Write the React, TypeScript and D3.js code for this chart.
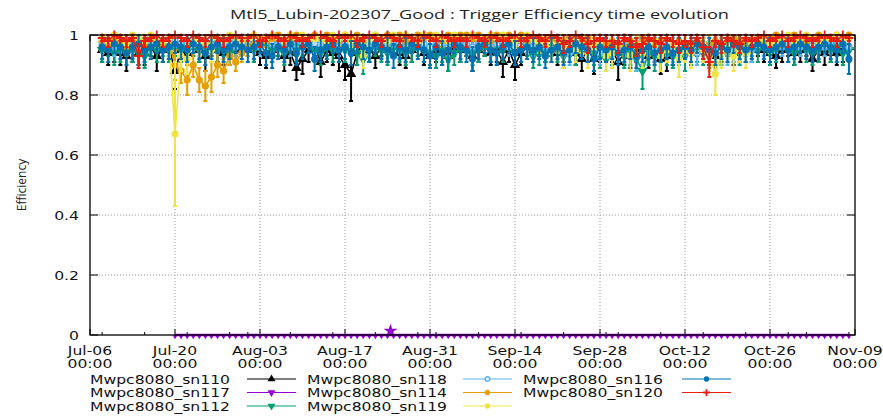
import React from "react";
import * as d3 from "d3";

const W = 883;
const H = 416;

// ---------- data ----------
const firstDay = new Date(2023, 6, 8);
const lastDay = new Date(2023, 10, 9);
const days = d3.timeDay.range(firstDay, lastDay); // Jul-08 .. Nov-08, 124 days

const tickDates = [
  new Date(2023, 6, 6), new Date(2023, 6, 20), new Date(2023, 7, 3), new Date(2023, 7, 17),
  new Date(2023, 7, 31), new Date(2023, 8, 14), new Date(2023, 8, 28), new Date(2023, 9, 12),
  new Date(2023, 9, 26), new Date(2023, 10, 9),
];
const tickLabels = ["Jul-06", "Jul-20", "Aug-03", "Aug-17", "Aug-31", "Sep-14", "Sep-28", "Oct-12", "Oct-26", "Nov-09"];
const yTicks = [0, 0.2, 0.4, 0.6, 0.8, 1];
const yTickLabels = ["0", "0.2", "0.4", "0.6", "0.8", "1"];

const seriesNames = ["Mwpc8080_sn110", "Mwpc8080_sn117", "Mwpc8080_sn112", "Mwpc8080_sn118", "Mwpc8080_sn114", "Mwpc8080_sn119", "Mwpc8080_sn116", "Mwpc8080_sn120"];
const seriesColors = ["#000000", "#9400d3", "#009e73", "#56b4e9", "#e69f00", "#f0e442", "#0072b2", "#e51e10"];
const seriesMarkers = ["triUp", "triDown", "triDown", "openCircle", "circle", "circle", "circle", "plus"];

// efficiency in percent, one value per day; errors in percent
const sn110 = [95,94,95,94,93,95,94,94,96,93,95,96, 88,95,94,96,95,93,96,95,94,96,95,97, 96,95,94,93,95,96,93,94,89,92,95,96, 91,95,94,93,90,87,94,96,95,93,96,95, 96,94,93,95,96,94,93,95,94,93,96,95, 96,93,95,96,94,95,91,95,90,94,96,95, 96,95,96,94,95,96,94,92,95,92,95,96, 95,91,94,93,95,94,93,95,92,93,94,95, 95,94,96,95,94,93,95,96,94,95,96,95, 96,95,94,93,95,96,94,95,96,92,95,94, 95,94,95,96];
const sn110Err = [4,4,4,4,5,4,4,4,3,5,4,4, 6,4,4,3,4,5,3,4,4,3,4,3, 3,4,4,4,4,3,5,4,4,5,4,3, 5,4,4,5,5,9,4,3,4,4,3,4, 3,4,4,4,3,4,4,4,4,5,3,4, 3,5,4,3,4,4,5,4,5,4,3,4, 3,4,3,4,4,3,4,4,4,5,4,3, 4,6,4,4,4,4,4,4,5,5,4,4, 4,4,3,4,4,4,4,3,4,4,3,4, 3,4,4,4,4,3,4,4,3,4,4,4, 4,4,4,3];

const sn117 = [null,null,null,null,null,null,null,null,null,null,null,null, 0,0,0,0,0,0,0,0,0,0,0,0, 0,0,0,0,0,0,0,0,0,0,0,0, 0,0,0,0,0,0,0,0,0,0,0,0, 0,0,0,0,0,0,0,0,0,0,0,0, 0,0,0,0,0,0,0,0,0,0,0,0, 0,0,0,0,0,0,0,0,0,0,0,0, 0,0,0,0,0,0,0,0,0,0,0,0, 0,0,0,0,0,0,0,0,0,0,0,0, 0,0,0,0,0,0,0,0,0,0,0,0, 0,0,0,0];
const sn117Err = [0,0,0,0,0,0,0,0,0,0,0,0, 0,0,0,0,0,0,0,0,0,0,0,0, 0,0,0,0,0,0,0,0,0,0,0,0, 0,0,0,0,0,0,0,0,0,0,0,0, 0,0,0,0,0,0,0,0,0,0,0,0, 0,0,0,0,0,0,0,0,0,0,0,0, 0,0,0,0,0,0,0,0,0,0,0,0, 0,0,0,0,0,0,0,0,0,0,0,0, 0,0,0,0,0,0,0,0,0,0,0,0, 0,0,0,0,0,0,0,0,0,0,0,0, 0,0,0,0];
const sn117StarDate = [new Date(2023, 7, 24, 12)];
const sn117StarValue = [1];

const sn112 = [95,96,94,95,96,95,94,93,96,95,96,95, 96,95,97,96,95,96,97,95,96,94,96,97, 96,95,96,97,95,96,94,96,95,96,97,95, 94,96,95,96,95,96,94,92,95,96,95,94, 96,95,94,95,96,95,94,93,95,92,94,95, 96,94,95,96,95,94,95,96,94,95,96,93, 94,95,96,95,93,95,94,96,95,94,93,92, 94,95,93,94,92,88,94,93,95,94,93,95, 93,94,95,94,93,95,94,96,95,94,95,96, 95,96,94,95,96,95,94,96,95,94,95,96, 95,96,94,95];
const sn112Err = [4,3,4,4,3,4,4,4,3,4,3,4, 3,4,3,3,4,3,3,4,3,4,3,3, 3,4,3,3,4,3,4,3,4,3,3,4, 4,3,4,3,4,3,4,5,4,3,4,4, 3,4,4,4,3,4,4,4,4,4,4,4, 3,4,4,3,4,4,4,3,4,4,3,4, 4,4,3,4,4,4,4,3,4,4,4,4, 4,4,4,4,4,6,4,5,4,4,4,4, 5,4,4,4,4,4,4,3,4,4,4,3, 4,3,4,4,3,4,4,3,4,4,4,3, 4,3,4,4];

const sn118 = [97,98,96,97,98,97,96,98,97,98,97,96, 98,97,98,97,96,98,97,98,97,98,96,97, 98,97,96,98,97,98,97,96,98,97,98,97, 97,98,97,96,98,97,98,97,96,97,98,97, 98,97,96,97,98,97,96,98,97,96,97,98, 97,96,98,97,96,97,98,96,97,98,97,96, 97,96,95,97,96,94,97,96,95,96,94,97, 96,95,97,96,93,94,96,95,97,96,95,94, 96,95,94,96,97,95,96,94,95,97,96,95, 97,96,98,97,96,97,98,96,97,98,97,96, 97,98,97,96];
const sn118Err = [3,2,3,3,2,3,3,2,3,2,3,3, 2,3,2,3,3,2,3,2,3,2,3,3, 2,3,3,2,3,2,3,3,2,3,2,3, 3,2,3,3,2,3,2,3,3,3,2,3, 2,3,3,3,2,3,3,2,3,3,3,2, 3,3,2,3,3,3,2,3,3,2,3,3, 3,3,4,3,3,4,3,3,4,3,4,3, 3,4,3,3,5,4,3,4,3,3,4,4, 3,4,4,3,3,4,3,4,4,3,3,4, 3,3,2,3,3,3,2,3,3,2,3,3, 3,2,3,3];

const sn114 = [98,97,99,98,96,99,98,97,99,98,97,99, 90,88,85,90,85,83,86,90,88,93,91,94, 96,97,99,98,99,100,98,99,100,99,98,100, 99,100,99,98,100,99,100,98,99,100,99,100, 99,100,98,99,100,99,100,99,98,100,99,100, 100,99,100,99,98,100,99,100,99,100,98,99, 99,98,99,97,98,99,97,98,99,96,98,97, 98,97,96,98,97,99,96,97,98,95,97,98, 97,96,98,95,97,98,96,97,99,98,97,98, 99,98,99,100,98,99,100,99,98,99,100,99, 99,100,99,100];
const sn114Err = [2,2,1,2,3,1,2,2,1,2,2,1, 5,4,5,4,4,5,5,4,4,3,3,3, 3,2,1,2,1,0,2,1,0,1,2,0, 1,0,1,2,0,1,0,2,1,0,1,0, 1,0,2,1,0,1,0,1,2,0,1,0, 0,1,0,1,2,0,1,0,1,0,2,1, 1,2,1,3,2,1,3,2,1,3,2,3, 2,3,3,2,3,1,3,3,2,4,3,2, 3,3,2,4,3,2,3,3,1,2,3,2, 1,2,1,0,2,1,0,1,2,1,0,1, 1,0,1,0];

const sn119 = [99,98,100,99,97,100,99,98,100,99,98,99, 67,93,92,98,96,97,95,99,98,100,99,98, 99,100,98,99,100,99,98,100,99,100,98,99, 99,98,100,99,100,98,99,93,99,100,99,98, 100,99,100,99,98,100,99,100,99,98,100,99, 99,100,99,98,100,99,100,99,98,99,100,99, 97,98,95,97,94,98,95,97,94,96,98,93, 94,97,95,93,97,94,96,98,93,95,97,92, 95,94,97,95,93,87,94,96,93,95,94,97, 98,99,97,98,99,100,98,99,100,99,98,99, 99,100,98,99];
const sn119Err = [1,2,0,1,3,0,1,2,0,1,2,1, 24,5,5,2,3,3,4,1,2,0,1,2, 1,0,2,1,0,1,2,0,1,0,2,1, 1,2,0,1,0,2,1,4,1,0,1,2, 0,1,0,1,2,0,1,0,1,2,0,1, 1,0,1,2,0,1,0,1,2,1,0,1, 3,2,4,3,5,2,4,3,5,4,2,5, 5,3,4,5,3,5,4,2,5,4,3,6, 4,5,3,4,5,7,5,4,5,4,5,3, 2,1,3,2,1,0,2,1,0,1,2,1, 1,0,2,1];

const sn116 = [96,95,97,96,94,96,97,95,96,97,95,96, 97,96,95,97,96,94,96,97,95,96,97,96, 95,96,97,94,93,96,95,97,94,96,97,92, 95,96,97,95,96,94,97,96,95,97,96,95, 93,96,95,97,96,95,93,96,94,95,97,96, 95,92,96,97,95,94,96,97,94,95,96,95, 96,93,95,96,94,95,97,96,95,92,96,95, 96,94,95,96,93,95,96,94,95,96,94,95, 96,95,97,96,95,94,96,95,97,96,95,96, 97,96,95,96,97,95,96,97,96,95,96,97, 96,95,97,92];
const sn116Err = [4,4,3,4,4,4,3,4,4,3,4,4, 3,4,4,3,4,4,4,3,4,4,3,4, 4,4,3,4,4,4,4,3,4,4,3,4, 4,4,3,4,4,4,3,4,4,3,4,4, 4,4,4,3,4,4,4,4,4,4,3,4, 4,4,4,3,4,4,4,3,4,4,4,4, 4,4,4,4,4,4,3,4,4,4,4,4, 4,4,4,4,4,4,4,4,4,4,4,4, 4,4,3,4,4,4,4,4,3,4,4,4, 3,4,4,4,3,4,4,3,4,4,4,3, 4,4,3,5];

const sn120 = [99,98,100,99,98,99,93,98,99,100,98,99, 100,99,98,100,99,98,100,99,98,99,100,99, 99,100,98,99,100,99,98,100,99,98,99,100, 100,99,98,100,99,100,98,99,100,99,98,100, 99,98,100,99,98,100,99,98,100,99,98,99, 98,100,99,98,100,99,98,99,100,98,99,100, 99,98,100,99,97,98,100,99,97,98,99,98, 98,97,99,98,96,97,99,98,97,99,98,97, 98,97,99,96,91,98,97,99,98,97,99,98, 99,100,98,99,100,98,99,100,99,98,99,100, 99,98,100,99];
const sn120Err = [1,2,0,1,2,1,4,2,1,0,2,1, 0,1,2,0,1,2,0,1,2,1,0,1, 1,0,2,1,0,1,2,0,1,2,1,0, 0,1,2,0,1,0,2,1,0,1,2,0, 1,2,0,1,2,0,1,2,0,1,2,1, 2,0,1,2,0,1,2,1,0,2,1,0, 1,2,0,1,3,2,0,1,3,2,1,2, 2,3,1,2,3,3,1,2,3,1,2,3, 2,3,1,4,5,2,3,1,2,3,1,2, 1,0,2,1,0,2,1,0,1,2,1,0, 1,2,0,1];

const seriesValues = [sn110, sn117, sn112, sn118, sn114, sn119, sn116, sn120];
const seriesErrors = [sn110Err, sn117Err, sn112Err, sn118Err, sn114Err, sn119Err, sn116Err, sn120Err];

// ---------- layout ----------
const x0 = 90, x1 = 855, yTop = 35, yBot = 335;
const xScale = d3.scaleTime().domain([tickDates[0], tickDates[tickDates.length - 1]]).range([x0, x1]);
const yScale = d3.scaleLinear().domain([0, 1]).range([yBot, yTop]);
const minorTicks = d3.timeDay
  .every(7)!
  .range(tickDates[0], tickDates[tickDates.length - 1])
  .filter((d) => Math.round((d.getTime() - tickDates[0].getTime()) / 864e5) % 14 !== 0);

const FONT = "DejaVu Sans, sans-serif";
const SX = 1.25;

function SText(props: { x: number; y: number; anchor?: string; size?: number; children: React.ReactNode; fill?: string }) {
  const { x, y, anchor = "start", size = 12.5, children, fill = "#111" } = props;
  return (
    <text transform={`translate(${x},${y}) scale(${SX},1)`} textAnchor={anchor} fontSize={size} fontFamily={FONT} fill={fill}>
      {children}
    </text>
  );
}

function Marker(props: { kind: string; x: number; y: number; color: string; scale?: number }) {
  const { kind, x, y, color, scale = 1 } = props;
  const s = scale;
  if (kind === "circle") return <circle cx={x} cy={y} r={3.6 * s} fill={color} />;
  if (kind === "openCircle") return <circle cx={x} cy={y} r={3 * s} fill="#fff" fillOpacity={0.6} stroke={color} strokeWidth={1.4} />;
  if (kind === "plus")
    return <path d={`M${x - 4.5 * s},${y}H${x + 4.5 * s}M${x},${y - 4.5 * s}V${y + 4.5 * s}`} stroke={color} strokeWidth={1.8} />;
  const sym = d3.symbol().type(d3.symbolTriangle).size(48 * s * s)()!;
  const rot = kind === "triDown" ? 180 : 0;
  return <path d={sym} transform={`translate(${x},${y}) rotate(${rot})`} fill={color} />;
}

export default function App() {
  const line = d3
    .line<[Date, number | null]>()
    .defined((d) => d[1] !== null)
    .x((d) => xScale(d[0]))
    .y((d) => yScale((d[1] as number) / 100));

  const legendCols = [
    { tx: 90, lx0: 247, lx1: 296 },
    { tx: 307, lx0: 463, lx1: 512 },
    { tx: 523, lx0: 682, lx1: 731 },
  ];
  const legendRows = [379, 392.5, 406];

  return (
    <svg width={W} height={H} style={{ position: "absolute", left: 0, top: 0, background: "#fff" }}>
      <rect width={W} height={H} fill="#fff" />
      {/* title */}
      <text x={230} y={19} textLength={499} lengthAdjust="spacingAndGlyphs" fontSize={12.5} fontFamily="Open Sans, sans-serif" fill="#222">
        Mtl5_Lubin-202307_Good : Trigger Efficiency  time evolution
      </text>
      {/* y label */}
      <text transform={`translate(26,${(yTop + yBot) / 2}) rotate(-90)`} textAnchor="middle" fontSize={12} fontFamily="Open Sans, sans-serif" fill="#222">
        Efficiency
      </text>

      {/* grid */}
      {tickDates.slice(1, -1).map((d, i) => (
        <line key={"gx" + i} x1={xScale(d)} x2={xScale(d)} y1={yTop} y2={yBot} stroke="#999" strokeWidth={1} strokeDasharray="1,2" />
      ))}
      {yTicks.slice(1, -1).map((v, i) => (
        <line key={"gy" + i} x1={x0} x2={x1} y1={yScale(v)} y2={yScale(v)} stroke="#999" strokeWidth={1} strokeDasharray="1,2" />
      ))}

      {/* ticks */}
      {tickDates.map((d, i) => (
        <g key={"tx" + i}>
          <line x1={xScale(d)} x2={xScale(d)} y1={yBot} y2={yBot - 6} stroke="#000" />
          <line x1={xScale(d)} x2={xScale(d)} y1={yTop} y2={yTop + 6} stroke="#000" />
        </g>
      ))}
      {minorTicks.map((d, i) => (
        <g key={"mx" + i}>
          <line x1={xScale(d)} x2={xScale(d)} y1={yBot} y2={yBot - 3} stroke="#000" />
          <line x1={xScale(d)} x2={xScale(d)} y1={yTop} y2={yTop + 3} stroke="#000" />
        </g>
      ))}
      {yTicks.map((v, i) => (
        <g key={"ty" + i}>
          <line x1={x0} x2={x0 + 8} y1={yScale(v)} y2={yScale(v)} stroke="#000" />
          <line x1={x1} x2={x1 - 8} y1={yScale(v)} y2={yScale(v)} stroke="#000" />
        </g>
      ))}

      {/* series */}
      {seriesValues.map((vals, si) => {
        const color = seriesColors[si];
        const errs = seriesErrors[si];
        const pts = days.map((d, i) => [d, vals[i]] as [Date, number | null]);
        const isPurple = si === 1;
        return (
          <g key={"s" + si}>
            <path d={line(pts) || ""} fill="none" stroke={color} strokeWidth={isPurple ? 2.5 : 1.6} />
            {pts.map(([d, v], i) => {
              if (v === null) return null;
              const e = errs[i];
              if (!e) return null;
              const px = xScale(d);
              const lo = yScale(Math.max(0, v - e) / 100);
              const hi = yScale(Math.min(100, v + e) / 100);
              return (
                <path key={i} d={`M${px},${lo}V${hi}M${px - 2},${lo}H${px + 2}M${px - 2},${hi}H${px + 2}`} stroke={color} strokeWidth={2} fill="none" />
              );
            })}
            {pts.map(([d, v], i) =>
              v === null ? null : (
                <Marker key={"m" + i} kind={seriesMarkers[si]} x={xScale(d)} y={yScale(v / 100) + (isPurple ? 1.5 : 0)} color={color} scale={isPurple ? 0.45 : 1} />
              )
            )}
          </g>
        );
      })}
      {sn117StarDate.map((d, i) => (
        <path
          key={"star" + i}
          d={d3.symbol().type(d3.symbolStar).size(60)()!}
          transform={`translate(${xScale(d)},${yScale(sn117StarValue[i] / 100) - 1})`}
          fill={seriesColors[1]}
        />
      ))}

      {/* border */}
      <rect x={x0} y={yTop} width={x1 - x0} height={yBot - yTop} fill="none" stroke="#000" strokeWidth={1.3} />

      {/* tick labels */}
      {tickDates.map((d, i) => (
        <g key={"lx" + i}>
          <SText x={xScale(d)} y={354.5} anchor="middle">{tickLabels[i]}</SText>
          <SText x={xScale(d)} y={368} anchor="middle">00:00</SText>
        </g>
      ))}
      {yTicks.map((v, i) => (
        <SText key={"ly" + i} x={79} y={yScale(v) + 4.5} anchor="end">{yTickLabels[i]}</SText>
      ))}

      {/* legend */}
      {seriesNames.map((name, k) => {
        const col = legendCols[Math.floor(k / 3)];
        const ry = legendRows[k % 3];
        const mx = (col.lx0 + col.lx1) / 2;
        return (
          <g key={"lg" + k}>
            <SText x={col.tx} y={ry + 4.5}>{name}</SText>
            <line x1={col.lx0} x2={col.lx1} y1={ry} y2={ry} stroke={seriesColors[k]} strokeWidth={1.2} />
            <Marker kind={seriesMarkers[k]} x={mx} y={ry} color={seriesColors[k]} scale={0.75} />
          </g>
        );
      })}
    </svg>
  );
}
